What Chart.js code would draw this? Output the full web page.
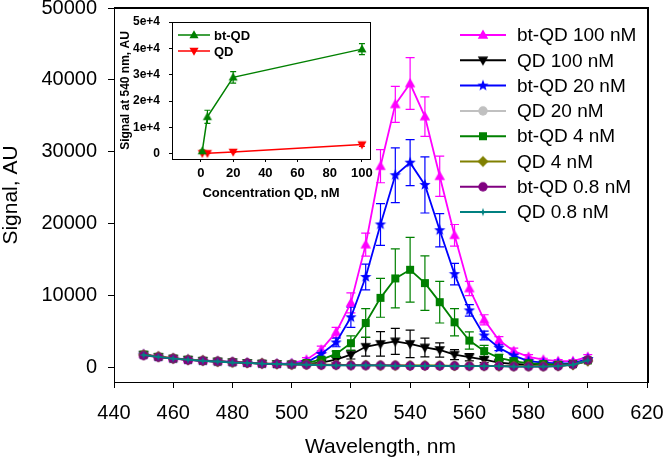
<!DOCTYPE html>
<html>
<head>
<meta charset="utf-8">
<script src="https://cdn.jsdelivr.net/npm/chart.js"></script>
<style>
body{margin:0;background:#fff;}
#wrap{position:relative;width:666px;height:461px;}
#mainChart{position:absolute;left:0;top:0;}
#insetChart{position:absolute;left:110px;top:10px;}
</style>
</head>
<body>
<div id="wrap">
<canvas id="mainChart" width="666" height="461"></canvas>
<canvas id="insetChart" width="270" height="195"></canvas>
</div>
<script>
// main spectra, 450..600 nm every 5 nm
const wavelengths = [450,455,460,465,470,475,480,485,490,495,500,505,510,515,520,525,530,535,540,545,550,555,560,565,570,575,580,585,590,595,600];
const btQD100 = [1850,1550,1300,1150,1000,900,800,700,600,550,600,1100,2500,4900,9000,17100,28000,36600,39500,34900,26600,18400,11000,6650,3800,2300,1500,1100,900,900,1500];
const btQD100Err = [200,200,150,150,150,150,150,150,150,150,200,300,500,700,1400,1600,2300,2500,3600,2750,2800,1500,1000,700,500,400,300,200,200,200,300];
const qd100 = [1800,1500,1250,1100,950,850,750,650,550,500,450,500,700,1100,1800,2900,3300,3650,3300,2800,2450,1800,1450,1100,700,500,400,300,300,400,900];
const qd100Err = [150,150,150,150,150,150,150,150,150,150,150,200,300,400,600,1300,1700,1800,1900,1300,1000,700,500,400,300,200,150,150,150,150,150];
const btQD20 = [1800,1500,1250,1100,950,850,750,650,550,500,500,700,1900,3500,7000,12600,19900,26750,28500,25400,19100,13000,7950,4460,2750,1670,900,700,600,600,1200];
const btQD20Err = [150,150,150,150,150,150,150,150,150,150,150,200,400,600,1400,1800,2900,3800,3200,3900,2300,1500,800,600,400,300,200,150,150,150,150];
const qd20 = [1750,1500,1250,1100,950,850,750,650,550,500,450,400,400,350,350,300,300,300,300,300,250,250,250,200,200,200,200,200,250,450,1000];
const btQD4 = [1800,1500,1250,1100,950,850,750,650,550,500,450,650,1100,1900,3400,6200,9700,12400,13600,11750,9100,6300,3760,2300,1350,900,600,500,400,500,1000];
const btQD4Err = [150,150,150,150,150,150,150,150,150,150,150,200,300,400,1000,2000,2700,4100,4500,3800,2900,1900,1200,800,500,300,200,150,150,150,150];
const qd4 = [1800,1550,1300,1100,1000,850,750,650,600,500,450,450,400,400,350,350,300,300,300,300,300,250,250,250,200,200,200,200,250,400,950];
const btQD08 = [1700,1450,1250,1050,950,850,750,650,550,500,450,400,350,350,300,300,300,300,250,250,250,250,200,200,200,150,150,150,200,450,1050];
const qd08 = [1750,1500,1250,1100,950,850,700,650,550,500,450,400,350,300,300,300,300,250,250,250,250,200,200,200,200,150,150,150,200,400,1000];

const xTicks = [440,460,480,500,520,540,560,580,600,620];
const yTicks = [0,10000,20000,30000,40000,50000];
const yTickLabels = ['0','10000','20000','30000','40000','50000'];

// inset: signal at 540 nm vs concentration
const concentrations = [0.8,4,20,100];
const insetBtQD = [1000,14000,29000,39700];
const insetBtQDErr = [400,2500,2200,2100];
const insetQD = [200,200,700,3500];
const insetQDErr = [100,100,200,700];
const insetXTicks = [0,20,40,60,80,100];
const insetYTicks = [0,10000,20000,30000,40000,50000];
const insetYTickLabels = ['0','1e+4','2e+4','3e+4','4e+4','5e+4'];

const fontFam = "'Liberation Sans', Arial, sans-serif";
Chart.defaults.font.family = fontFam;
Chart.defaults.color = '#000';

function makeMarker(shape, color, r){
    const c = document.createElement('canvas');
    c.width = 16; c.height = 16;
    const g = c.getContext('2d');
    g.fillStyle = color;
    g.translate(8,8);
    g.beginPath();
    if(shape==='triUp'){
        g.moveTo(0,-r); g.lineTo(r*0.95,r*0.7); g.lineTo(-r*0.95,r*0.7);
    } else if(shape==='triDown'){
        g.moveTo(0,r); g.lineTo(r*0.95,-r*0.7); g.lineTo(-r*0.95,-r*0.7);
    } else if(shape==='star5' || shape==='star4'){
        const n = shape==='star5' ? 5 : 4;
        const inner = shape==='star5' ? r*0.42 : r*0.35;
        for(let k=0;k<n*2;k++){
            const a = -Math.PI/2 + k*Math.PI/n;
            const rr = k%2 ? inner : r;
            g.lineTo(Math.cos(a)*rr, Math.sin(a)*rr);
        }
    } else if(shape==='circle'){
        g.arc(0,0,r,0,Math.PI*2);
    } else if(shape==='square'){
        g.rect(-r,-r,2*r,2*r);
    } else if(shape==='diamond'){
        g.moveTo(0,-r); g.lineTo(r,0); g.lineTo(0,r); g.lineTo(-r,0);
    }
    g.closePath();
    g.fill();
    return c;
}

// fixed axis size, and no extra room asked for the tick labels
function fixSize(w, h){
    return s => {
        if(w !== null) s.width = w;
        if(h !== null) s.height = h;
        s.paddingTop = 0; s.paddingBottom = 0; s.paddingLeft = 0; s.paddingRight = 0;
    };
}

const series = [
    {label:'bt-QD 100 nM', data:btQD100, err:btQD100Err, color:'#ff00ff', shape:'triUp', r:5.5},
    {label:'QD 100 nM', data:qd100, err:qd100Err, color:'#000000', shape:'triDown', r:5.5},
    {label:'bt-QD 20 nM', data:btQD20, err:btQD20Err, color:'#0000ff', shape:'star5', r:6},
    {label:'QD 20 nM', data:qd20, err:null, color:'#c0c0c0', shape:'circle', r:4.7},
    {label:'bt-QD 4 nM', data:btQD4, err:btQD4Err, color:'#008000', shape:'square', r:4},
    {label:'QD 4 nM', data:qd4, err:null, color:'#808000', shape:'diamond', r:5.5},
    {label:'bt-QD 0.8 nM', data:btQD08, err:null, color:'#800080', shape:'circle', r:4.7},
    {label:'QD 0.8 nM', data:qd08, err:null, color:'#008080', shape:'star4', r:4.2}
];

const mainDatasets = series.map((s,i)=>({
    label: s.label,
    data: wavelengths.map((w,j)=>({x:w, y:s.data[j]})),
    borderColor: s.color,
    backgroundColor: s.color,
    borderWidth: 1.8,
    pointStyle: makeMarker(s.shape, s.color, s.r),
    pointRadius: 5,
    err: s.err,
    order: series.length-1-i
}));

const errorBars = {
    id:'errorBars',
    beforeDatasetsDraw(chart, args, opts){
        const ctx = chart.ctx;
        const ys = chart.scales.y;
        chart.data.datasets.forEach((ds,i)=>{
            if(!ds.err) return;
            const meta = chart.getDatasetMeta(i);
            ctx.save();
            ctx.strokeStyle = ds.borderColor;
            ctx.lineWidth = 1.2;
            meta.data.forEach((pt,j)=>{
                const v = ds.data[j].y, e = ds.err[j];
                const top = ys.getPixelForValue(v+e), bot = ys.getPixelForValue(v-e);
                const cap = opts.cap;
                ctx.beginPath();
                ctx.moveTo(pt.x,top); ctx.lineTo(pt.x,bot);
                ctx.moveTo(pt.x-cap,top); ctx.lineTo(pt.x+cap,top);
                ctx.moveTo(pt.x-cap,bot); ctx.lineTo(pt.x+cap,bot);
                ctx.stroke();
            });
            ctx.restore();
        });
    }
};

// top and right sides of the plot box
const plotBox = {
    id:'plotBox',
    afterDraw(chart, args, o){
        const a = chart.chartArea, ctx = chart.ctx;
        const t = o.thick || 1;
        const l = Math.round(a.left), r = Math.round(a.right);
        const tp = Math.round(a.top), b = Math.round(a.bottom);
        ctx.save();
        ctx.fillStyle = '#000';
        ctx.fillRect(l, tp - t + 1, r - l + t, t);
        ctx.fillRect(r, tp - t + 1, t, b - tp + t);
        ctx.restore();
    }
};

// hand-made legend so it sits where the original one is
const boxLegend = {
    id:'boxLegend',
    afterDraw(chart, args, o){
        const ctx = chart.ctx;
        ctx.save();
        chart.data.datasets.forEach((ds,i)=>{
            const y = o.top + i*o.step;
            ctx.strokeStyle = ds.borderColor;
            ctx.lineWidth = o.lineWidth;
            ctx.beginPath();
            ctx.moveTo(o.x0,y); ctx.lineTo(o.x1,y);
            ctx.stroke();
            const m = ds.pointStyle;
            ctx.drawImage(m, (o.x0+o.x1)/2 - m.width/2, y - m.height/2);
            ctx.fillStyle = '#000';
            ctx.font = o.font;
            ctx.textBaseline = 'middle';
            ctx.fillText(ds.label, o.textX, y+1);
        });
        ctx.restore();
    }
};

new Chart(document.getElementById('mainChart'), {
    type:'line',
    data:{datasets: mainDatasets},
    options:{
        responsive:false,
        animation:false,
        devicePixelRatio:1,
        events:[],
        layout:{padding:{left:0, top:8, right:19, bottom:0}},
        plugins:{
            legend:{display:false},
            tooltip:{enabled:false},
            errorBars:{cap:4.5},
            plotBox:{thick:2},
            boxLegend:{top:35, step:25.3, x0:460, x1:506, textX:517, lineWidth:2, font:"19px "+fontFam}
        },
        scales:{
            x:{
                type:'linear', min:440, max:620,
                afterBuildTicks: s => { s.ticks = xTicks.map(v=>({value:v})); },
                afterFit: fixSize(null, 79),
                ticks:{font:{size:20}, color:'#000', padding:13, maxRotation:0, callback: v => String(v)},
                grid:{drawOnChartArea:false, drawTicks:true, tickLength:6, color:'#000'},
                border:{display:true, color:'#000', width:1},
                title:{display:true, text:'Wavelength, nm', font:{size:21}, color:'#000', padding:{top:0, bottom:1}}
            },
            y:{
                type:'linear', min:-2000, max:50000,
                afterBuildTicks: s => { s.ticks = yTicks.map(v=>({value:v})); },
                afterFit: fixSize(114, null),
                ticks:{font:{size:20}, color:'#000', padding:11, callback: (v,i) => yTickLabels[i]},
                grid:{drawOnChartArea:false, drawTicks:true, tickLength:6, color:'#000'},
                border:{display:true, color:'#000', width:1},
                title:{display:true, text:'Signal, AU', font:{size:21, lineHeight:1}, color:'#000', padding:{top:1, bottom:0}}
            }
        }
    },
    plugins:[errorBars, boxLegend, plotBox]
});

const insetSeries = [
    {label:'bt-QD', data:insetBtQD, err:insetBtQDErr, color:'#008000', shape:'triUp', r:4.8},
    {label:'QD', data:insetQD, err:insetQDErr, color:'#ff0000', shape:'triDown', r:4.8}
];

new Chart(document.getElementById('insetChart'), {
    type:'line',
    data:{datasets: insetSeries.map((s,i)=>({
        label:s.label,
        data: concentrations.map((c,j)=>({x:c, y:s.data[j]})),
        borderColor:s.color,
        backgroundColor:s.color,
        borderWidth:1.5,
        pointStyle: makeMarker(s.shape, s.color, s.r),
        pointRadius:4,
        err:s.err,
        order:i
    }))},
    options:{
        responsive:false,
        animation:false,
        devicePixelRatio:1,
        events:[],
        layout:{padding:{left:0, top:12, right:10, bottom:0}},
        plugins:{
            legend:{display:false},
            tooltip:{enabled:false},
            errorBars:{cap:3},
            plotBox:{thick:1},
            boxLegend:{top:25, step:16, x0:68, x1:100, textX:104, lineWidth:1.5, font:"bold 13px "+fontFam}
        },
        scales:{
            x:{
                type:'linear', min:-18, max:105,
                afterBuildTicks: s => { s.ticks = insetXTicks.map(v=>({value:v})); },
                afterFit: fixSize(null, 46),
                ticks:{font:{size:13, weight:'bold'}, color:'#000', padding:4, maxRotation:0, callback: v => String(v)},
                grid:{drawOnChartArea:false, drawTicks:true, tickLength:3, color:'#000'},
                border:{display:true, color:'#000', width:1},
                title:{display:true, text:'Concentration QD, nM', font:{size:13, weight:'bold'}, color:'#000', padding:{top:0, bottom:4}}
            },
            y:{
                type:'linear', min:-2000, max:50000,
                afterBuildTicks: s => { s.ticks = insetYTicks.map(v=>({value:v})); },
                afterFit: fixSize(62, null),
                ticks:{font:{size:12, weight:'bold'}, color:'#000', padding:9, callback: (v,i) => insetYTickLabels[i]},
                grid:{drawOnChartArea:false, drawTicks:true, tickLength:3, color:'#000'},
                border:{display:true, color:'#000', width:1},
                title:{display:true, text:'Signal at 540 nm, AU', font:{size:12, weight:'bold'}, color:'#000', padding:{top:8, bottom:0}}
            }
        }
    },
    plugins:[errorBars, boxLegend, plotBox]
});
</script>
</body>
</html>
